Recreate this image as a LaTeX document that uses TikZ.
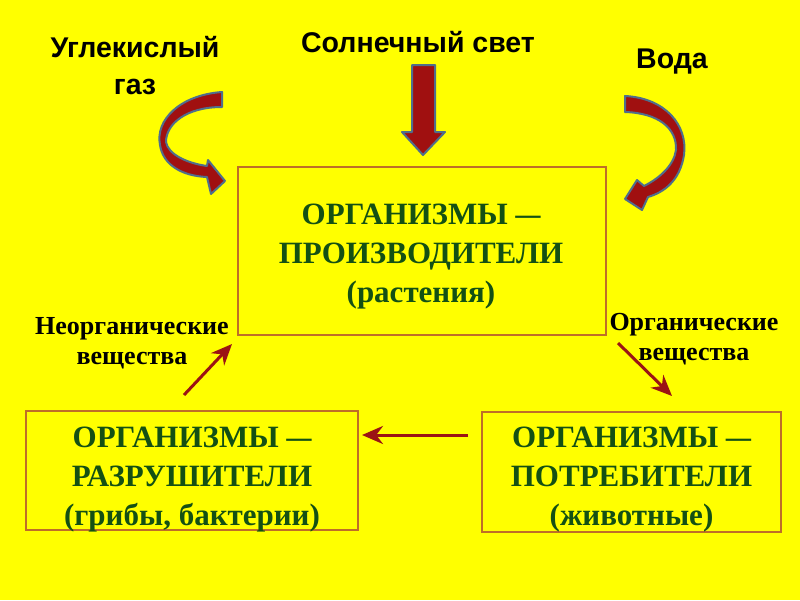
\documentclass[tikz,border=0pt]{standalone}
\usepackage{fontspec}
\setmainfont{Liberation Serif}
\newfontfamily\arialb{Liberation Sans}
\usetikzlibrary{arrows.meta}
\definecolor{bg}{RGB}{255,255,0}
\definecolor{boxline}{RGB}{190,110,40}
\definecolor{txtgreen}{RGB}{20,80,20}
\definecolor{arrred}{RGB}{160,16,16}
\definecolor{arrline}{RGB}{80,110,140}
\definecolor{thinred}{RGB}{155,20,20}
\newcommand{\longdash}{\scalebox{1.6}[1]{–}}
\begin{document}
\begin{tikzpicture}[x=1pt,y=-1pt,
  orgbox/.style={draw=boxline,line width=1.5pt,inner sep=0pt},
  orgtext/.style={align=center,text=txtgreen,
    font=\bfseries\fontsize{31}{39}\selectfont,inner sep=0pt},
  toplabel/.style={align=center,font=\arialb\bfseries\fontsize{28.5}{37}\selectfont,text=black},
  sublabel/.style={align=center,font=\bfseries\fontsize{26}{30}\selectfont,text=black},
  blockarr/.style={fill=arrred,draw=arrline,line width=2pt,line join=round},
  thinarr/.style={draw=thinred,line width=3pt,-{Stealth[length=21pt,width=18pt]}}]
\fill[bg] (0,0) rectangle (800,600);
\useasboundingbox (0,0) rectangle (800,600);

\node[orgbox,minimum width=368pt,minimum height=168pt] (prod) at (422,251) {};
\node[orgtext] (prodt) at (421,257)
  {ОРГАНИЗМЫ \longdash\\ПРОИЗВОДИТЕЛИ\\(растения)};
\node[orgbox,minimum width=332pt,minimum height=119pt] (decomp) at (192,470.5) {};
\node[orgtext] (decompt) at (192,480)
  {ОРГАНИЗМЫ \longdash\\РАЗРУШИТЕЛИ\\(грибы, бактерии)};
\node[orgbox,minimum width=299pt,minimum height=120pt] (cons) at (631.5,472) {};
\node[orgtext] (const) at (631.5,480)
  {ОРГАНИЗМЫ \longdash\\ПОТРЕБИТЕЛИ\\(животные)};

\node[toplabel] (co2) at (135,66) {Углекислый\\газ};
\node[toplabel] (sun) at (418,42) {Солнечный свет};
\node[toplabel] (water) at (672,62) {Вода};

\node[sublabel] (inorg) at (132,343) {Неорганические\\вещества};
\node[sublabel] (org) at (694,339) {Органические\\вещества};

% sunlight block arrow
\draw[blockarr] (412,65) -- (435,65) -- (435,132) -- (445,132) -- (423,155)
  -- (402,132) -- (412,132) -- cycle;

% left curved arrow (CO2)
\draw[blockarr] (222,92) .. controls (180,95) and (155,120) .. (160,145)
  .. controls (163,165) and (182,176) .. (207,177) -- (211,194) -- (225,181)
  -- (208,160) -- (207,166) .. controls (186,163) and (168,154) .. (166,142)
  .. controls (166,124) and (186,107) .. (222,107) -- cycle;

% right curved arrow (water)
\draw[blockarr] (625,96) .. controls (665,98) and (688,125) .. (684,155)
  .. controls (680,180) and (665,192) .. (648,197) -- (642,210) -- (625,199)
  -- (637,180) -- (644,186) .. controls (660,178) and (674,165) .. (676,150)
  .. controls (677,128) and (658,113) .. (625,112) -- cycle;

% thin arrows
\coordinate (a1s) at (184,395);
\coordinate (a1e) at (232,344);
\coordinate (a2s) at (618,343);
\coordinate (a2e) at (672,396);
\coordinate (a3s) at (468,435);
\coordinate (a3e) at (362,435);
\draw[thinarr] (a1s) -- (a1e);
\draw[thinarr] (a2s) -- (a2e);
\draw[thinarr] (a3s) -- (a3e);
\end{tikzpicture}
\end{document}
